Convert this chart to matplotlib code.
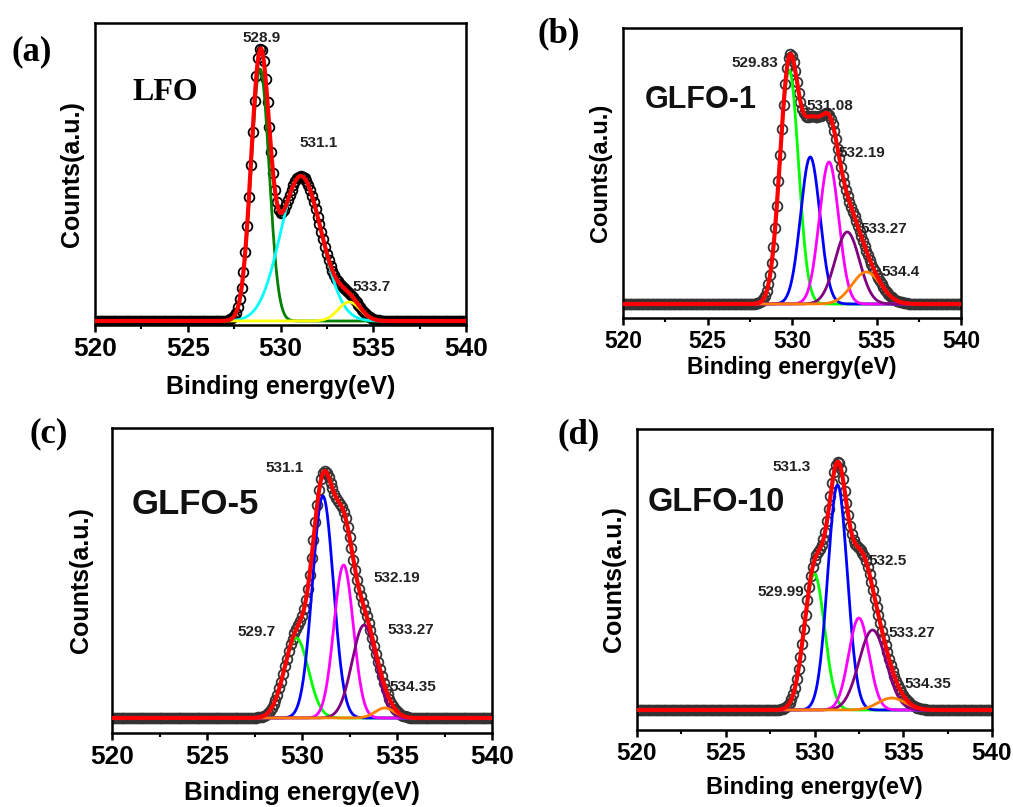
import numpy as np
import matplotlib.pyplot as plt

# peak fits: centre (eV), height (a.u.), FWHM (eV)
lfo_centers = [528.9, 531.1, 533.7]
lfo_heights = [252, 145, 19]
lfo_fwhm = [1.15, 2.6, 1.4]
lfo_colors = ['#008000', '#00ffff', '#ffff00']

glfo1_centers = [529.83, 531.08, 532.19, 533.27, 534.4]
glfo1_heights = [234, 147, 142, 72, 32]
glfo1_fwhm = [1.3, 1.35, 1.35, 1.7, 2.0]

glfo5_centers = [529.7, 531.1, 532.19, 533.27, 534.35]
glfo5_heights = [80, 222, 153, 93, 10]
glfo5_fwhm = [1.5, 1.3, 1.2, 1.5, 1.2]

glfo10_centers = [529.99, 531.3, 532.5, 533.27, 534.35]
glfo10_heights = [136, 225, 92, 80, 12]
glfo10_fwhm = [1.35, 1.3, 1.35, 1.8, 1.8]

glfo_colors = ['#00ff00', '#0000ff', '#ff00ff', '#800080', '#ff8000']

samples = ['LFO', 'GLFO-1', 'GLFO-5', 'GLFO-10']
panel_tags = ['(a)', '(b)', '(c)', '(d)']
peak_labels = [['528.9', '531.1', '533.7'],
               ['529.83', '531.08', '532.19', '533.27', '534.4'],
               ['531.1', '532.19', '529.7', '533.27', '534.35'],
               ['531.3', '532.5', '529.99', '533.27', '534.35']]

energy_fit = np.arange(520, 540.001, 0.02)
energy_pts = np.arange(520, 540.001, 0.1)


def gauss(x, c, h, w):
    s = w / 2.3548
    return h * np.exp(-(x - c) ** 2 / (2 * s ** 2))


fig = plt.figure(figsize=(10.13, 8.07), dpi=100)
W, H = 1013, 807
# axes boxes in pixels: left, top, right, bottom
boxes = [(95, 23, 466, 325), (623, 28, 961, 318),
         (112, 428, 492, 733), (637, 429, 992, 730)]
ylims = [(-4, 298), (-14, 276), (-15, 290), (-20, 281)]
fits = [(lfo_centers, lfo_heights, lfo_fwhm, lfo_colors),
        (glfo1_centers, glfo1_heights, glfo1_fwhm, glfo_colors),
        (glfo5_centers, glfo5_heights, glfo5_fwhm, glfo_colors),
        (glfo10_centers, glfo10_heights, glfo10_fwhm, glfo_colors)]
tag_pos = [(32, 52), (559, 34), (49, 434), (579, 435)]
tick_size = [19, 16.5, 19, 17.5]
xlab_size = [18, 16.5, 18.5, 17]
ylab_size = [18, 17, 18, 18]
xlab_pad = [10, 2, 9, 8]
ylab_pad = [8, 8, 14, 8]
name_size = [23, 22, 25, 23.5]

# positions of the annotations (energy, height) and alignment
label_pos = [[(529.0, 283, 'center'), (532.05, 178, 'center'), (534.9, 34, 'center')],
             [(529.2, 241, 'right'), (530.83, 198, 'left'), (532.78, 151, 'left'),
              (534.08, 75, 'left'), (535.3, 32, 'left')],
             [(529.1, 250, 'center'), (535.0, 140, 'center'), (527.6, 86, 'center'),
              (535.7, 88, 'center'), (535.85, 31, 'center')],
             [(528.7, 243, 'center'), (534.1, 149, 'center'), (528.1, 118, 'center'),
              (535.5, 77, 'center'), (536.4, 26, 'center')]]
name_pos = [(522.0, 229), (521.3, 204), (521.05, 213), (520.6, 207)]

for i in range(4):
    l, t, r, b = boxes[i]
    ax = fig.add_axes([l / W, 1 - b / H, (r - l) / W, (b - t) / H])
    centers, heights, widths, colors = fits[i]

    pts = sum(gauss(energy_pts, c, h, w) for c, h, w in zip(centers, heights, widths))
    envelope = sum(gauss(energy_fit, c, h, w) for c, h, w in zip(centers, heights, widths))

    ax.plot(energy_pts, pts, 'o', mfc='none', mec='black' if i == 0 else '#333333',
            ms=7, mew=1.3, zorder=2)
    for c, h, w, col in zip(centers, heights, widths, colors):
        ax.plot(energy_fit, gauss(energy_fit, c, h, w), color=col, lw=2, zorder=3)
    ax.plot(energy_fit, envelope, color='#ff0000', lw=3, zorder=4)

    ax.set_xlim(520, 540)
    ax.set_ylim(*ylims[i])
    ax.set_yticks([])
    ax.set_xticks([520, 525, 530, 535, 540])
    ax.set_xticks(np.arange(520, 540.1, 2.5), minor=True)
    ax.tick_params(axis='x', which='major', direction='out', length=5, width=1.8,
                   labelsize=tick_size[i])
    ax.tick_params(axis='x', which='minor', direction='out', length=3, width=1.5)
    for lab in ax.get_xticklabels():
        lab.set_fontweight('bold')
        lab.set_family('Liberation Sans')
    for sp in ax.spines.values():
        sp.set_linewidth(1.8)

    ax.set_xlabel('Binding energy(eV)', fontsize=xlab_size[i], fontweight='bold',
                  family='Liberation Sans', labelpad=xlab_pad[i])
    ax.set_ylabel('Counts(a.u.)', fontsize=ylab_size[i], fontweight='bold',
                  family='Liberation Sans', labelpad=ylab_pad[i])

    nx, ny = name_pos[i]
    if i == 0:
        ax.text(nx, ny, samples[i], fontsize=name_size[i], fontweight='bold',
                family='Liberation Serif', va='center', ha='left')
    else:
        ax.text(nx, ny, samples[i], fontsize=name_size[i], fontweight='bold',
                family='Liberation Sans', va='center', ha='left', color='#111111')

    for txt, (px, py, ha) in zip(peak_labels[i], label_pos[i]):
        ax.text(px, py, txt, fontsize=11, fontweight='bold', family='Liberation Sans',
                ha=ha, va='center', color='#222222', zorder=6)

    tx, ty = tag_pos[i]
    fig.text(tx / W, 1 - ty / H, panel_tags[i], fontsize=25, fontweight='bold',
             family='Liberation Serif', ha='center', va='center')

fig.savefig('out.png', dpi=100)
